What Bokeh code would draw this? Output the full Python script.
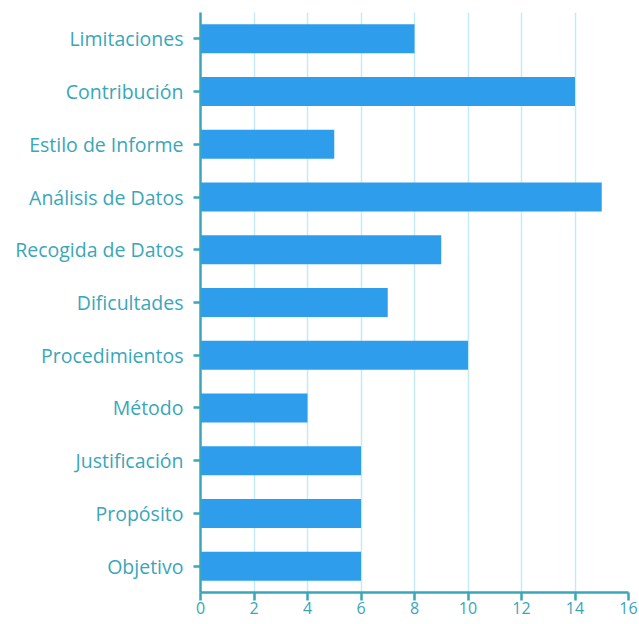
from bokeh.plotting import figure
from bokeh.models import FactorRange, Range1d, ColumnDataSource, FixedTicker
from bokeh.embed import file_html
from bokeh.resources import INLINE

categories = ["Limitaciones", "Contribución", "Estilo de Informe", "Análisis de Datos",
              "Recogida de Datos", "Dificultades", "Procedimientos", "Método",
              "Justificación", "Propósito", "Objetivo"]
values = [8, 14, 5, 15, 9, 7, 10, 4, 6, 6, 6]
x_ticks = [0, 2, 4, 6, 8, 10, 12, 14, 16]

TEAL = "#3aa6b9"
BAR = "#2e9eec"
GRID = "#c4ebf4"
FONT = "Open Sans"

src = ColumnDataSource(dict(cat=categories, val=values))

p = figure(width=639, height=620, output_backend="svg", toolbar_location=None,
           y_range=FactorRange(factors=list(reversed(categories)), range_padding=0),
           x_range=Range1d(0, 16),
           min_border_left=200, min_border_top=12, min_border_right=11, min_border_bottom=28)

p.hbar(y="cat", right="val", left=0, height=0.55, source=src, color=BAR, line_color=None)

p.outline_line_color = None
p.background_fill_color = "white"
p.border_fill_color = "white"

p.ygrid.grid_line_color = None
p.xgrid.grid_line_color = GRID
p.xgrid.grid_line_width = 1.5
p.xgrid.ticker = FixedTicker(ticks=x_ticks)

p.xaxis.ticker = FixedTicker(ticks=x_ticks)
for ax in (p.xaxis[0], p.yaxis[0]):
    ax.axis_line_color = TEAL
    ax.axis_line_width = 2.5
    ax.major_tick_line_color = TEAL
    ax.major_tick_line_width = 2.5
    ax.minor_tick_line_color = None
    ax.major_tick_in = 0
    ax.major_label_text_color = TEAL
    ax.major_label_text_font = FONT

p.xaxis.major_tick_out = 8
p.xaxis.major_label_standoff = 1
p.xaxis.major_label_text_font_size = "16px"

p.yaxis.major_tick_out = 7
p.yaxis.major_label_standoff = 10
p.yaxis.major_label_text_font_size = "19.5px"

open("out.html", "w").write(file_html(p, INLINE))
